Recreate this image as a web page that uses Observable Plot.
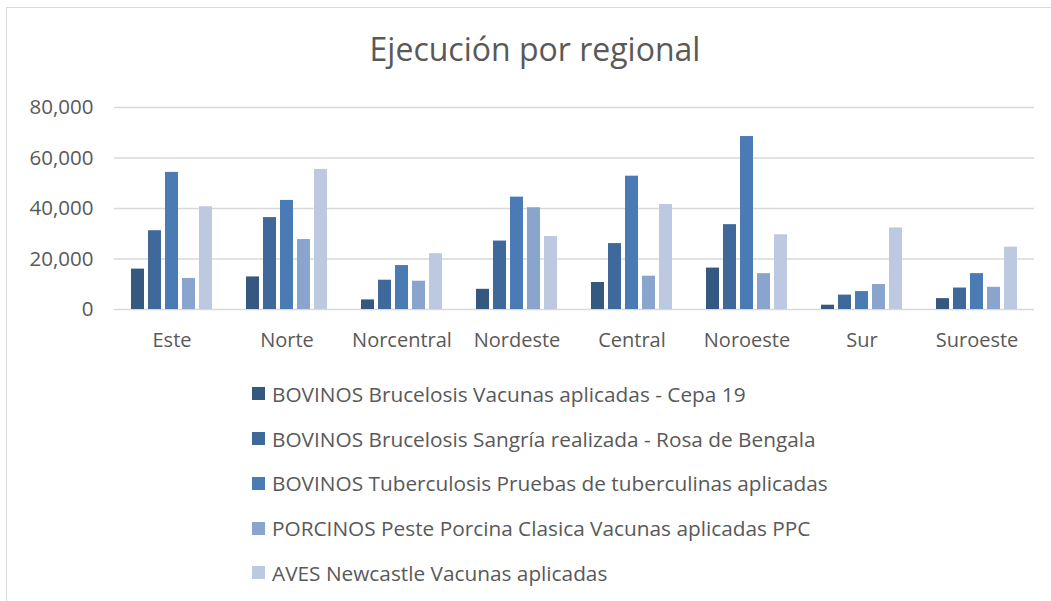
<!DOCTYPE html>
<html>
<head>
<meta charset="utf-8">
<script src="https://cdn.jsdelivr.net/npm/d3@7"></script>
<script src="https://cdn.jsdelivr.net/npm/@observablehq/plot@0.6"></script>
<style>
  html, body { margin: 0; padding: 0; background: #fff; }
  body { width: 1051px; height: 601px; position: relative; overflow: hidden; font-family: "Open Sans", sans-serif; color: #595959; }
  #border { position: absolute; left: 6px; top: 7px; width: 1100px; height: 700px; border: 1.5px solid #d9d9d9; box-sizing: border-box; }
  #title { position: absolute; left: 0; top: 30px; width: 1070px; text-align: center; font-size: 32px; line-height: 1.2; }
  #chart { position: absolute; left: 0; top: 90px; }
  #legend { position: absolute; left: 252px; top: 371.6px; font-size: 20.8px; }
  .row { display: flex; align-items: center; height: 44.7px; white-space: nowrap; }
  .sw { width: 13px; height: 13px; margin-right: 7px; flex: none; }
</style>
</head>
<body>
<div id="border"></div>
<div id="title">Ejecución por regional</div>
<div id="chart"></div>
<div id="legend"></div>
<script>
const regions = ["Este", "Norte", "Norcentral", "Nordeste", "Central", "Noroeste", "Sur", "Suroeste"];
const seriesNames = [
  "BOVINOS Brucelosis Vacunas aplicadas - Cepa 19",
  "BOVINOS Brucelosis Sangría realizada - Rosa de Bengala",
  "BOVINOS Tuberculosis Pruebas de tuberculinas aplicadas",
  "PORCINOS Peste Porcina Clasica Vacunas aplicadas PPC",
  "AVES Newcastle Vacunas aplicadas"
];
const cepa19      = [16000, 12900,  3800,  8000, 10700, 16400,  1700,  4300];
const rosaBengala = [31200, 36400, 11600, 27100, 26100, 33600,  5700,  8500];
const tuberculina = [54300, 43200, 17400, 44500, 52800, 68500,  7100, 14200];
const ppc         = [12300, 27700, 11200, 40300, 13200, 14200,  9900,  8800];
const newcastle   = [40700, 55500, 22100, 28900, 41600, 29600, 32300, 24700];
const seriesColors = ["#34587f", "#3f689b", "#4a7bb4", "#89a5cd", "#bdc9e1"];
const yTicks = [0, 20000, 40000, 60000, 80000];

const seriesValues = [cepa19, rosaBengala, tuberculina, ppc, newcastle];
const data = [];
regions.forEach((r, i) => {
  seriesNames.forEach((s, j) => {
    data.push({region: r, series: s, value: seriesValues[j][i]});
  });
});

const chart = Plot.plot({
  width: 1051,
  height: 270,
  marginLeft: 113,
  marginRight: 17,
  marginTop: 17,
  marginBottom: 51,
  style: {fontFamily: "'Open Sans', sans-serif", fontSize: "20px", color: "#595959", background: "transparent", overflow: "visible"},
  fx: {domain: regions, padding: 0, label: null, tickSize: 0, tickPadding: 23.5, axis: "bottom"},
  x: {domain: seriesNames, axis: null, paddingInner: 0.21, paddingOuter: 0.86},
  y: {domain: [0, 80000], ticks: yTicks, tickFormat: d3.format(","), tickSize: 0, tickPadding: 21, label: null},
  color: {domain: seriesNames, range: seriesColors},
  marks: [
    Plot.gridY(yTicks, {stroke: "#d9d9d9", strokeOpacity: 1, strokeWidth: 1.5}),
    Plot.barY(data, {fx: "region", x: "series", y: "value", fill: "series"})
  ]
});
chart.querySelectorAll("[aria-label='y-axis tick label']").forEach(g => g.setAttribute("font-size", "20.5"));
document.getElementById("chart").appendChild(chart);

const legend = document.getElementById("legend");
const colorScale = chart.scale("color");
seriesNames.forEach(s => {
  const row = document.createElement("div");
  row.className = "row";
  const sw = document.createElement("span");
  sw.className = "sw";
  sw.style.background = colorScale.apply(s);
  const label = document.createElement("span");
  label.textContent = s;
  row.appendChild(sw);
  row.appendChild(label);
  legend.appendChild(row);
});
</script>
</body>
</html>
